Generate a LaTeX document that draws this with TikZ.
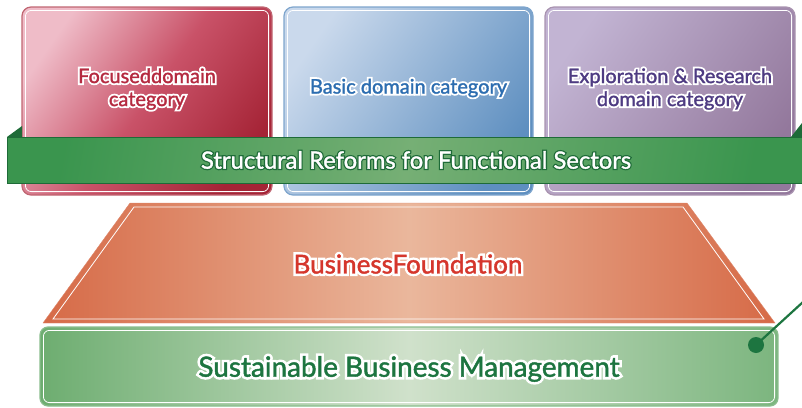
\documentclass[tikz,border=0pt]{standalone}
\usepackage{fontspec}
\setmainfont{Lato}
\usepackage{tikz}
\usetikzlibrary{positioning,calc}

\definecolor{redlt}{HTML}{EFBCC8}
\definecolor{redmd}{HTML}{C95268}
\definecolor{reddk}{HTML}{A52436}
\definecolor{redtx}{HTML}{B52A40}
\definecolor{bluelt}{HTML}{CAD9EC}
\definecolor{bluedk}{HTML}{5E8FC0}
\definecolor{bluetx}{HTML}{2C6DB0}
\definecolor{purplt}{HTML}{C2B4D3}
\definecolor{purpdk}{HTML}{93789C}
\definecolor{purptx}{HTML}{4E3B82}
\definecolor{banddk}{HTML}{3A954E}
\definecolor{bandlt}{HTML}{76AF75}
\definecolor{bandfold}{HTML}{1E6B38}
\definecolor{orgdk}{HTML}{D66A47}
\definecolor{orglt}{HTML}{EAB79C}
\definecolor{orgtx}{HTML}{D5362C}
\definecolor{grndk}{HTML}{6DAD70}
\definecolor{grnlt}{HTML}{D0E1CB}
\definecolor{grntx}{HTML}{1D7540}

% text with a halo: a fake-bold copy underneath, then the text itself
\newcommand\halotext[4][20]{\makebox[0pt][l]{\addfontfeatures{FakeBold=#1}\textcolor{#3}{#4}}{\addfontfeatures{FakeBold=1.5}\textcolor{#2}{#4}}}

\tikzset{
	catbox/.style={rounded corners=9pt,minimum width=250pt,minimum height=188pt,line width=1.2pt},
	cattext/.style={align=center,font=\fontsize{20}{23}\selectfont},
	innerline/.style={white,line width=0.8pt,rounded corners=6pt},
}

\begin{document}
\begin{tikzpicture}[x=1pt,y=-1pt]
	\useasboundingbox (0,0) rectangle (802,407);
	% the three domain categories
	\node[catbox,draw=reddk!70,left color=redlt,right color=reddk,middle color=redmd,shading angle=55] (redbox) at (147,101) {};
	\node[catbox,draw=bluedk!80,left color=bluelt,right color=bluedk,shading angle=55,minimum width=249pt] (bluebox) at (408.5,101) {};
	\node[catbox,draw=purpdk!80,left color=purplt,right color=purpdk,shading angle=55] (purpbox) at (670,101) {};
	\foreach \b in {redbox,bluebox,purpbox}
		\draw[innerline] ([shift={(4pt,-4pt)}]\b.north west) rectangle ([shift={(-4pt,4pt)}]\b.south east);
	\node[cattext] (redtxt) at ([yshift=12pt]redbox.center) {\halotext{redtx}{white}{Focuseddomain}\\\halotext{redtx}{white}{category}};
	\node[cattext] (bluetxt) at ([yshift=13pt]bluebox.center) {\halotext{bluetx}{white}{Basic domain category}};
	\node[cattext] (purptxt) at ([yshift=12pt]purpbox.center) {\halotext{purptx}{white}{Exploration \& Research}\\\halotext{purptx}{white}{domain category}};

	% green band across the categories
	\fill[bandfold] (7,137) -- (22,126) -- (22,137) -- cycle;
	\fill[bandfold] (791,137) -- (802,123) -- (802,137) -- cycle;
	\node[draw=bandfold,line width=1pt,left color=banddk,right color=banddk,middle color=bandlt,shading angle=80,minimum width=800pt,minimum height=46pt,anchor=north west] (band) at (7,137) {};
	\node[font=\fontsize{23.8}{27}\selectfont] (bandtxt) at (416,160) {\halotext[12]{white}{bandfold}{Structural Reforms for Functional Sectors}};

	% business foundation
	\shade[left color=orgdk,right color=orgdk,middle color=orglt,draw=orgdk!80] (130,203) -- (687,203) -- (775,323) -- (43,323) -- cycle;
	\draw[white,line width=0.8pt] (134,207) -- (683,207) -- (764,319) -- (53,319) -- cycle;
	\node[font=\fontsize{26}{30}\selectfont] (foundtxt) at (408,264) {\halotext{orgtx}{white}{BusinessFoundation}};

	% sustainable management
	\node[rounded corners=8pt,draw=grndk!80,line width=1.2pt,left color=grndk,right color=grndk!90,middle color=grnlt,minimum width=738pt,minimum height=79pt] (mgmt) at (409,366.5) {};
	\draw[innerline] ([shift={(4pt,-4pt)}]mgmt.north west) rectangle ([shift={(-4pt,4pt)}]mgmt.south east);
	\node[font=\fontsize{27.9}{32}\selectfont] (mgmttxt) at (409,369) {\halotext{grntx}{white}{Sustainable Business Management}};

	\node[circle,fill=grntx,minimum size=16pt,inner sep=0pt] (dot) at (756,345) {};
	\coordinate (lineend) at (803,302);
	\draw[grntx,line width=2.2pt] (dot.center) -- (lineend);
\end{tikzpicture}
\end{document}
